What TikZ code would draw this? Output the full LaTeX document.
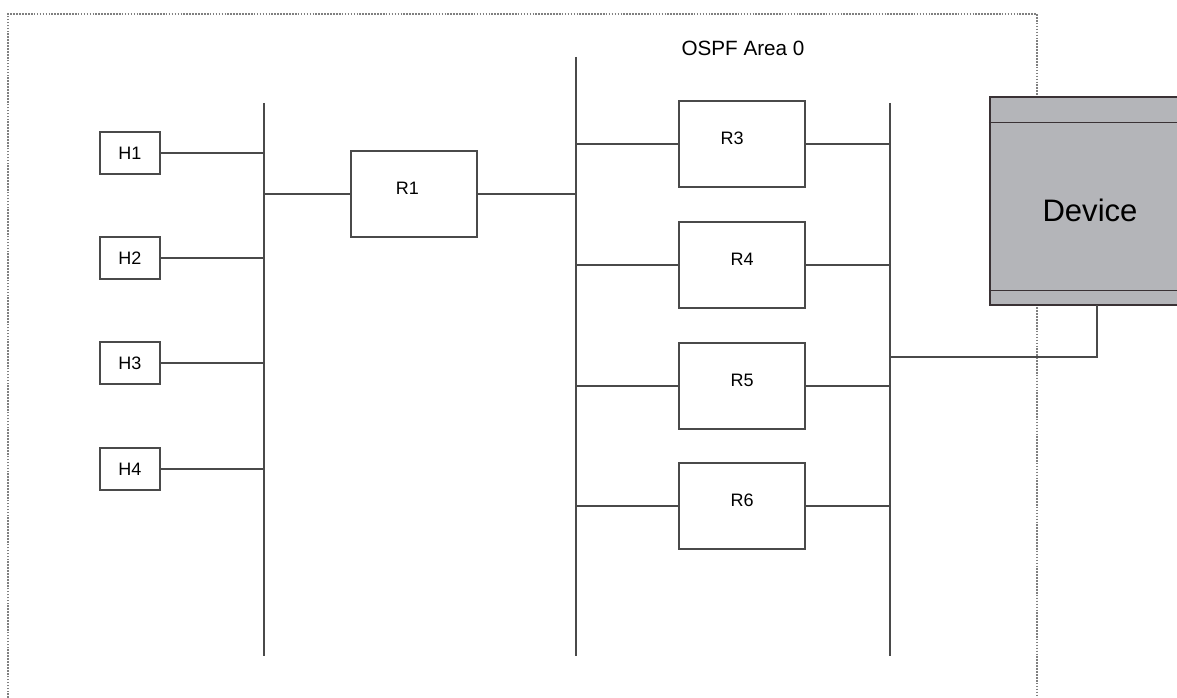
\documentclass[tikz,border=0pt]{standalone}
\usepackage{fontspec}
\setmainfont{Liberation Sans}
\usetikzlibrary{positioning,calc}
\definecolor{wire}{HTML}{4A4A4A}
\definecolor{devfill}{HTML}{B4B5B9}
\definecolor{devline}{HTML}{3A3235}
\tikzset{
  host/.style={draw=wire,line width=1.3pt,minimum width=45pt,minimum height=32pt,inner sep=0pt,font=\fontsize{13.5}{15}\selectfont},
  router/.style={draw=wire,line width=1.3pt,minimum width=95pt,minimum height=64pt,inner sep=0pt,text depth=9pt,font=\fontsize{13.5}{15}\selectfont},
  bus/.style={wire,line width=1.4pt},
  link/.style={wire,line width=1.1pt},
  area/.style={gray,densely dotted,line width=1.2pt}
}

\begin{document}
\begin{tikzpicture}[x=0.75pt,y=-0.75pt]
  \clip (0,0) rectangle (1177,698);
  % area border
  \draw[area] (8,698) -- (8,14) -- (1037,14) -- (1037,698);
  \node[font=\fontsize{15.5}{17}\selectfont] (ospf) at (743,48) {OSPF Area 0};

  % hosts
  \node[host] (h1) at (130,153) {H1};
  \node[host] (h2) at (130,258) {H2};
  \node[host] (h3) at (130,363) {H3};
  \node[host] (h4) at (130,469) {H4};

  % routers
  \node[router] (r1) at (414,194) {\kern-10pt R1};
  \node[router] (r3) at (742,144) {\kern-15pt R3};
  \node[router] (r4) at (742,265) {R4};
  \node[router] (r5) at (742,386) {R5};
  \node[router] (r6) at (742,506) {R6};

  % buses
  \coordinate (b1top) at (264,103);
  \coordinate (b1bot) at (264,656);
  \coordinate (b2top) at (576,57);
  \coordinate (b2bot) at (576,656);
  \coordinate (b3top) at (890,103);
  \coordinate (b3bot) at (890,656);
  \draw[bus] (b1top) -- (b1bot);
  \draw[bus] (b2top) -- (b2bot);
  \draw[bus] (b3top) -- (b3bot);

  % links
  \foreach \h in {h1,h2,h3,h4}
    \draw[link] (\h.east) -- (\h.east -| b1top);
  \draw[link] (b1top |- r1.west) -- (r1.west);
  \draw[link] (r1.east) -- (r1.east -| b2top);
  \foreach \r in {r3,r4,r5,r6} {
    \draw[link] (\r.west -| b2top) -- (\r.west);
    \draw[link] (\r.east) -- (\r.east -| b3top);
  }

  % Device
  \node[draw=devline,fill=devfill,line width=1.6pt,minimum width=150pt,minimum height=156pt,
        inner sep=0pt,font=\fontsize{23.3}{26}\selectfont,text height=31.5pt,text depth=0pt] (dev) at (1090,201) {Device};
  \draw[devline,line width=0.8pt] ($(dev.north west)+(0,27)$) -- ($(dev.north east)+(0,27)$);
  \draw[devline,line width=0.8pt] ($(dev.south west)+(0,-16)$) -- ($(dev.south east)+(0,-16)$);
  \coordinate (tap) at (890,357);
  \coordinate (devport) at (1097,305);
  \draw[link] (tap) -| (devport);
\end{tikzpicture}
\end{document}
